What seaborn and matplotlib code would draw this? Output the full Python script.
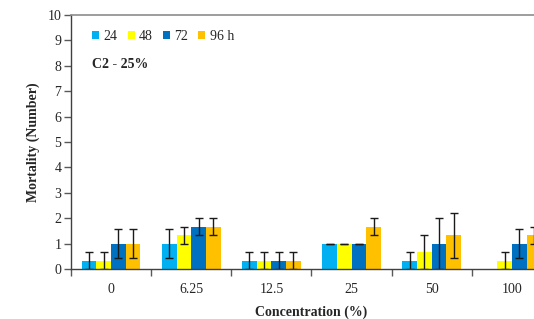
import matplotlib
matplotlib.use("Agg")
import matplotlib.pyplot as plt
import seaborn as sns
import pandas as pd
import numpy as np

concentrations = ["0", "6.25", "12.5", "25", "50", "100"]
times = ["24", "48", "72", "96 h"]
colors = ["#00B0F0", "#FFFF00", "#0070C0", "#FFC000"]
v24 = [0.33, 1.0, 0.33, 1.0, 0.33, 0.0]
v48 = [0.33, 1.33, 0.33, 1.0, 0.67, 0.33]
v72 = [1.0, 1.67, 0.33, 1.0, 1.0, 1.0]
v96 = [1.0, 1.67, 0.33, 1.67, 1.33, 1.33]
e24 = [0.33, 0.58, 0.33, 0.0, 0.33, 0.0]
e48 = [0.33, 0.33, 0.33, 0.0, 0.67, 0.33]
e72 = [0.58, 0.33, 0.33, 0.0, 1.0, 0.58]
e96 = [0.58, 0.33, 0.33, 0.33, 0.88, 0.33]

vals = [v24, v48, v72, v96]
errs = [e24, e48, e72, e96]
rows = []
for t, vs, es in zip(times, vals, errs):
    for c, v, e in zip(concentrations, vs, es):
        rows.append({"conc": c, "time": t, "val": v, "err": e})
df = pd.DataFrame(rows)

sns.set_style("white")
plt.rcParams["font.family"] = ["Liberation Serif", "DejaVu Serif"]

fig = plt.figure(figsize=(5.34, 3.19), dpi=100)
ax = fig.add_axes([71/534, 1-269/319, 481/534, 254/319])
sns.barplot(data=df, x="conc", y="val", hue="time", order=concentrations,
            hue_order=times, palette=colors, width=0.73, errorbar=None,
            saturation=1, linewidth=0, ax=ax, legend=True)

# error bars at bar centers
patches = list(ax.patches)[:len(df)]
for p, (_, r) in zip(patches, df.iterrows()):
    if r["val"] == 0 and r["err"] == 0:
        continue
    x = p.get_x() + p.get_width()/2
    ax.errorbar(x, r["val"], yerr=r["err"], fmt="none", ecolor="#1a1a1a",
                elinewidth=1, capsize=3, capthick=1)

ax.set_ylim(0, 10)
ax.set_xlim(-0.5, 5.5)
ax.set_yticks(range(0, 11))
ax.set_yticklabels([str(i) for i in range(11)], fontsize=10)
ax.set_xticks(range(6))
ax.set_xticklabels(concentrations, fontsize=10)
ax.set_xticks(np.arange(-0.5, 5.6, 1), minor=True)
ax.tick_params(axis="x", which="major", length=0, pad=10)
ax.tick_params(axis="x", which="minor", direction="out", length=5, width=1,
               color="#595959", bottom=True)
ax.tick_params(axis="y", direction="out", length=5, width=1, color="#595959",
               left=True, pad=2)

for s in ["left", "bottom"]:
    ax.spines[s].set_color("#404040")
    ax.spines[s].set_linewidth(1)
ax.spines["top"].set_color("#8c8c8c")
ax.spines["top"].set_linewidth(1.2)
ax.spines["right"].set_visible(False)

ax.set_xlabel("Concentration (%)", fontsize=10, fontweight="bold", labelpad=7)
ax.set_ylabel("Mortality (Number)", fontsize=10, fontweight="bold", labelpad=5)

handles, labels = ax.get_legend_handles_labels()
ax.legend(handles, times, ncol=4, frameon=False, loc="center left",
          bbox_to_anchor=(0.044, 0.917), fontsize=10, handlelength=0.5,
          handleheight=0.5, handletextpad=0.3, columnspacing=0.75,
          borderaxespad=0, borderpad=0)
ax.text(0.044, 0.807, "C2 - 25%", transform=ax.transAxes, fontsize=10,
        fontweight="bold", va="center")

fig.savefig("out.png", dpi=100)
